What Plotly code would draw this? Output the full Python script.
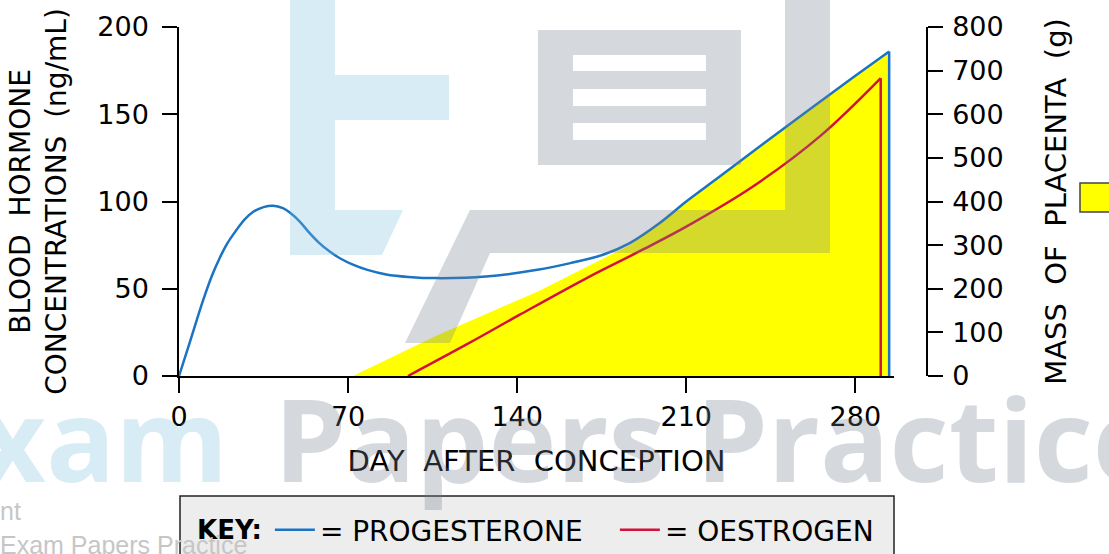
import plotly.graph_objects as go

# ---------------- data ----------------
prog_day = [0, 4.4, 9.9, 13.5, 16.8, 20, 23.7, 27, 30.6, 35, 39, 43, 46, 50, 54, 58,
            62.4, 67, 72, 78, 85.8, 95, 106.5, 127, 149, 162, 175.5, 186.6, 199,
            210, 224, 251.5, 279, 294]
prog_val = [0, 19, 43, 57, 67.5, 76, 83.5, 89.5, 94, 96.8, 97.6, 96.2, 93.5, 88.5, 82,
            76.3, 71.3, 67.2, 63.8, 60.8, 58.2, 56.8, 56.1, 57, 61, 64.7, 69.5, 76.2,
            87.7, 100, 114.4, 143, 171, 186]

oest_day = [94.8, 120, 140.9, 168.6, 190.7, 210, 237.6, 265.3, 290.5]
oest_val = [0, 18.8, 35, 56, 71.5, 85.6, 108.6, 137.3, 170.7]

plac_day = [72, 106.5, 149, 168.6, 186.6, 199, 210, 224, 251.5, 279, 294]
plac_g = [0, 92, 195, 249, 300, 351, 400, 458, 572, 684, 744]

x_ticks = [0, 70, 140, 210, 280]
y_ticks = [0, 50, 100, 150, 200]
y2_ticks = [0, 100, 200, 300, 400, 500, 600, 700, 800]

# ---------------- geometry ----------------
WIDTH, HEIGHT = 1109, 554
L, RAX, T, B = 179, 927, 27, 376
W, H = RAX - L, B - T


def px(x):
    return (x - L) / W


def py(y):
    return (B - y) / H


def P(x, y):
    return f"{px(x):.4f},{py(y):.4f}"


BLUE = "#1a73c3"
RED = "#d4113a"
YELLOW = "#ffff00"
FONT = "DejaVu Sans"

fig = go.Figure()

# placenta mass (yellow area, right axis -> base y axis, drawn underneath)
fig.add_trace(go.Scatter(
    x=plac_day + [plac_day[-1]], y=plac_g + [0], yaxis="y",
    mode="lines", line=dict(width=0, color=YELLOW), fill="tozeroy",
    fillcolor=YELLOW, showlegend=False, hoverinfo="skip"))

# oestrogen (left axis)
fig.add_trace(go.Scatter(
    x=oest_day, y=oest_val, yaxis="y2", mode="lines", name="= OESTROGEN",
    line=dict(color=RED, width=2.5, shape="spline"), legendrank=2))
fig.add_trace(go.Scatter(
    x=[oest_day[-1], oest_day[-1]], y=[oest_val[-1], 0], yaxis="y2", mode="lines",
    line=dict(color=RED, width=2.5), showlegend=False))

# progesterone (left axis)
fig.add_trace(go.Scatter(
    x=prog_day, y=prog_val, yaxis="y2", mode="lines", name="= PROGESTERONE",
    line=dict(color=BLUE, width=2.5, shape="spline"), legendrank=1))
fig.add_trace(go.Scatter(
    x=[prog_day[-1], prog_day[-1]], y=[prog_val[-1], 0], yaxis="y2", mode="lines",
    line=dict(color=BLUE, width=2.5), showlegend=False))

axis_common = dict(showline=True, linecolor="black", linewidth=1.5, ticks="outside",
                   ticklen=15, tickwidth=1.5, tickcolor="black", showgrid=False,
                   zeroline=False, automargin=False,
                   tickfont=dict(family=FONT, size=27, color="black"))

shapes = [
    # key box
    dict(type="rect", xref="paper", yref="paper", x0=px(180), x1=px(894),
         y0=py(575), y1=py(496), fillcolor="#ededed",
         line=dict(color="#222222", width=1.5), layer="below"),
    # yellow placenta key square
    dict(type="rect", xref="paper", yref="paper", x0=px(1080), x1=px(1112),
         y0=py(212), y1=py(183), fillcolor=YELLOW,
         line=dict(color="#444444", width=1.5)),
    # watermark logo (light blue)
    dict(type="path", xref="paper", yref="paper", layer="above",
         path=(f"M{P(290,-5)} L{P(335,-5)} L{P(335,75)} L{P(449,75)} L{P(449,120)} "
               f"L{P(335,120)} L{P(335,210)} L{P(403,210)} L{P(382,255)} L{P(290,255)} Z"),
         fillcolor="rgba(122,192,222,0.3)", line=dict(width=0)),
    # watermark logo (grey document)
    dict(type="path", xref="paper", yref="paper", layer="above",
         path=(f"M{P(538,30)} L{P(741,30)} L{P(741,165)} L{P(538,165)} Z "
               f"M{P(573,55)} L{P(573,71)} L{P(706,71)} L{P(706,55)} Z "
               f"M{P(573,89)} L{P(573,106)} L{P(706,106)} L{P(706,89)} Z "
               f"M{P(573,123)} L{P(573,140)} L{P(706,140)} L{P(706,123)} Z"),
         fillcolor="rgba(115,128,141,0.3)", line=dict(width=0)),
    dict(type="path", xref="paper", yref="paper", layer="above",
         path=(f"M{P(785,-5)} L{P(830,-5)} L{P(830,253)} L{P(490,253)} L{P(450,343)} "
               f"L{P(405,343)} L{P(470,210)} L{P(785,210)} Z"),
         fillcolor="rgba(115,128,141,0.3)", line=dict(width=0)),
]

annotations = [
    dict(text="Exam", xref="paper", yref="paper", x=px(230), y=py(437),
         xanchor="right", yanchor="middle", showarrow=False,
         font=dict(family="Open Sans", size=115, weight=700, color="rgba(122,192,222,0.3)")),
    dict(text="Papers Practice", xref="paper", yref="paper", x=px(272), y=py(437),
         xanchor="left", yanchor="middle", showarrow=False,
         font=dict(family="Open Sans", size=115, weight=700, color="rgba(115,128,141,0.3)")),
    dict(text="nt", xref="paper", yref="paper", x=px(-2), y=py(511),
         xanchor="left", yanchor="middle", showarrow=False,
         font=dict(family="Liberation Sans", size=25, color="#c6c6c6")),
    dict(text="Exam Papers Practice", xref="paper", yref="paper", x=px(-2), y=py(545),
         xanchor="left", yanchor="middle", showarrow=False,
         font=dict(family="Liberation Sans", size=25, color="#c6c6c6")),
]

fig.update_layout(
    template="none",
    width=WIDTH, height=HEIGHT,
    margin=dict(l=L, r=WIDTH - RAX, t=T, b=HEIGHT - B, pad=0),
    paper_bgcolor="white", plot_bgcolor="rgba(0,0,0,0)",
    font=dict(family=FONT, size=27, color="black"),
    xaxis=dict(**axis_common, domain=[0, px(894)], range=[0, 296],
               tickvals=x_ticks, ticklabelstandoff=1,
               title=dict(text="DAY  AFTER  CONCEPTION", standoff=20,
                          font=dict(family=FONT, size=29))),
    yaxis=dict(**axis_common, range=[0, 800], tickvals=y2_ticks,
               side="right", anchor="free", position=1.0, ticklabelstandoff=4,
               title=dict(text="MASS  OF  PLACENTA  (g)", standoff=42,
                          font=dict(family=FONT, size=29))),
    yaxis2=dict(**axis_common, range=[0, 200], tickvals=y_ticks, overlaying="y",
                side="left", anchor="x", ticklabelstandoff=8,
                title=dict(text="BLOOD  HORMONE<br>CONCENTRATIONS  (ng/mL)", standoff=22,
                           font=dict(family=FONT, size=28))),
    legend=dict(orientation="h", xref="container", yref="container",
                x=195 / WIDTH, y=(HEIGHT - 530) / HEIGHT, xanchor="left", yanchor="middle",
                bgcolor="rgba(0,0,0,0)", borderwidth=0, itemwidth=40,
                entrywidth=290, entrywidthmode="pixels",
                font=dict(family=FONT, size=28, color="black"),
                title=dict(text="<b>KEY:</b>", font=dict(family=FONT, size=26))),
    shapes=shapes,
    annotations=annotations,
    showlegend=True,
)

fig.write_html("out.html", config={"displayModeBar": False},
               post_script="document.body.style.margin='0';")
